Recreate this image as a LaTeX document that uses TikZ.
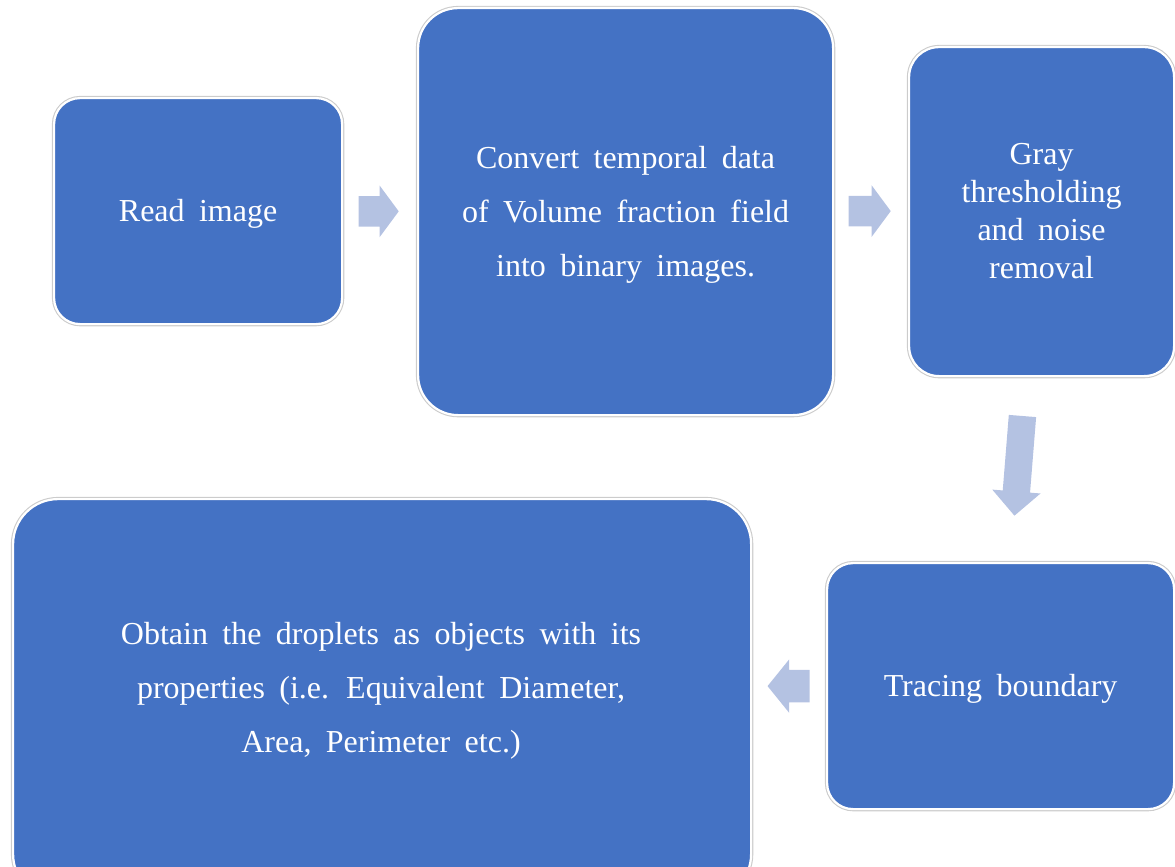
\documentclass[tikz,border=0pt]{standalone}
\usepackage{fontspec}
\setmainfont{Liberation Serif}[WordSpace=1.8]
\usetikzlibrary{shapes.arrows,calc}
\definecolor{boxblue}{HTML}{4472C4}
\definecolor{arrowblue}{HTML}{B4C2E2}
\definecolor{rimgray}{HTML}{CCCCCC}
\tikzset{
  x=1pt,y=1pt,
  stepbox/.style={draw=white, line width=2.2pt, fill=boxblue,
    preaction={draw=rimgray, line width=4.4pt},
    anchor=north west, inner sep=0pt},
  steptext/.style={text=white, align=center, inner sep=0pt,
    font=\fontsize{32}{#1}\selectfont},
  steptext/.default=54,
  blockarrow/.style={shape=single arrow, fill=arrowblue, draw=none,
    inner xsep=0pt, inner ysep=#1, single arrow head extend=10.5pt},
  blockarrow/.default=15pt
}
\begin{document}
\begin{tikzpicture}
\useasboundingbox (0,0) rectangle (1175,-867);
\clip (0,0) rectangle (1175,-867);
% boxes
\node[stepbox, rounded corners=26pt, minimum width=288pt, minimum height=226pt] (read) at (53,-97) {};
\node[stepbox, rounded corners=40pt, minimum width=415pt, minimum height=407pt] (convert) at (417,-7) {};
\node[stepbox, rounded corners=30pt, minimum width=265pt, minimum height=329pt] (thresh) at (908,-46) {};
\node[stepbox, rounded corners=26pt, minimum width=347pt, minimum height=246pt] (trace) at (826,-562) {};
\node[stepbox, rounded corners=45pt, minimum width=738pt, minimum height=400pt] (obtain) at (12,-498) {};
% texts
\node[steptext] (readtext) at ($(read.center)+(0,-3)$) {Read image};
\node[steptext] (converttext) at ($(convert.center)+(0,-3)$)
  {Convert temporal data\\of Volume fraction field\\into binary images.};
\node[steptext=38] (threshtext) at ($(thresh.center)+(0,1)$)
  {Gray\\thresholding\\and noise\\removal};
\node[steptext] (tracetext) at ($(trace.center)+(0,-3)$) {Tracing boundary};
\node[steptext] (obtaintext) at (381,-691)
  {Obtain the droplets as objects with its\\properties (i.e. Equivalent Diameter,\\Area, Perimeter etc.)};
% block arrows between the steps
\node[blockarrow, minimum height=40pt, single arrow tip angle=107] (a1)
  at ($(read.east)!0.5!(convert.west)+(-7,0)$) {};
\node[blockarrow, minimum height=42pt, single arrow tip angle=107] (a2)
  at ($(convert.east|-read.east)!0.5!(thresh.west|-read.east)+(-7,0)$) {};
\node[blockarrow=13.5pt, minimum height=100pt, single arrow tip angle=90,
  rotate=-94.6] (a3) at (1019,-459) {};
\node[blockarrow=16pt, minimum height=42pt, single arrow tip angle=102,
  rotate=180] (a4) at ($(trace.west)!0.5!(obtain.east|-trace.west)+(6,0)$) {};
\end{tikzpicture}
\end{document}
